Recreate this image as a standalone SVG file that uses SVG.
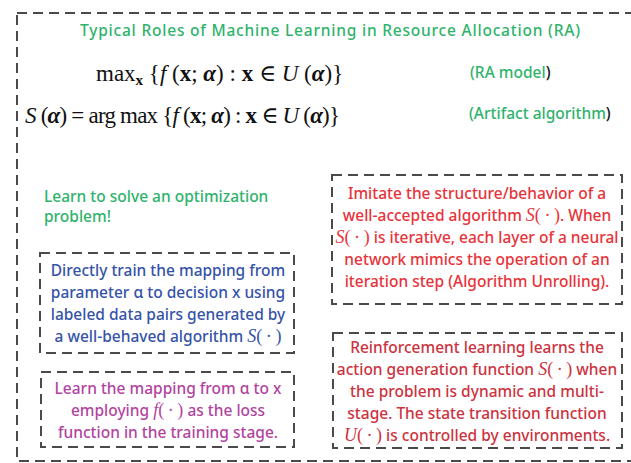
<svg xmlns="http://www.w3.org/2000/svg" width="631" height="463" viewBox="0 0 631 463">
  <style>
    .frame { fill: none; stroke: #4a4a4a; stroke-width: 2; stroke-dasharray: 10 6; }
    .sans { font-family: "Noto Sans", "Open Sans", "Liberation Sans", sans-serif; font-size: 15.5px; font-weight: 500; }
    .math { font-family: "Liberation Serif", "DejaVu Serif", serif; font-size: 23px; fill: #111; }
    .it { font-style: italic; }
    .bf { font-weight: bold; }
    .green { fill: #2fb36c; }
    .blue { fill: #3553a8; }
    .purple { fill: #b2449f; }
    .red { fill: #e8333a; }
    .dred { fill: #cc3340; }
    .mi { font-family: "Liberation Serif", serif; font-style: italic; font-weight: normal; font-size: 18px; }
    .mr { font-family: "Liberation Serif", serif; font-weight: normal; font-size: 18px; }
  </style>
  <rect width="631" height="463" fill="#ffffff"/>

  <!-- outer frame (right edge runs past the canvas) -->
  <rect class="frame" x="17" y="13" width="630" height="448"/>

  <!-- header -->
  <g id="header">
    <text class="sans green" x="80" y="36" font-size="19" textLength="500" lengthAdjust="spacing">Typical Roles of Machine Learning in Resource Allocation (RA)</text>
    <text class="math" x="96" y="81">max<tspan class="bf" font-size="15" dy="4">x</tspan><tspan dy="-4"> {</tspan><tspan class="it">f</tspan> (<tspan class="bf">x</tspan>; <tspan class="bf it">α</tspan>) : <tspan class="bf">x</tspan> ∈ <tspan class="it">U</tspan> (<tspan class="bf it">α</tspan>)}</text>
    <text class="sans green" x="470" y="78" font-size="16.5">(RA model<tspan fill="#111">)</tspan></text>
    <text class="math" x="25" y="123" textLength="315" lengthAdjust="spacing"><tspan class="it">S</tspan> (<tspan class="bf it">α</tspan>) = arg max {<tspan class="it">f</tspan> (<tspan class="bf">x</tspan>; <tspan class="bf it">α</tspan>) : <tspan class="bf">x</tspan> ∈ <tspan class="it">U</tspan> (<tspan class="bf it">α</tspan>)}</text>
    <text class="sans green" x="469" y="119" font-size="16.5">(Artifact algorithm<tspan fill="#111">)</tspan></text>
  </g>

  <g id="goal">
    <text class="sans green" x="44" y="202" font-size="15.8">Learn to solve an optimization</text>
    <text class="sans green" x="44" y="222" font-size="15.8">problem!</text>
  </g>

  <g id="supervised">
    <rect class="frame" x="40" y="253" width="254" height="100"/>
    <g class="sans blue" text-anchor="middle">
      <text x="168" y="276">Directly train the mapping from</text>
      <text x="168" y="298">parameter α to decision x using</text>
      <text x="168" y="320">labeled data pairs generated by</text>
      <text x="168" y="342">a well-behaved algorithm <tspan class="mi">S</tspan><tspan class="mr">(&#8201;·&#8201;)</tspan></text>
    </g>
  </g>

  <g id="unsupervised">
    <rect class="frame" x="41" y="372" width="253" height="75"/>
    <g class="sans purple" text-anchor="middle">
      <text x="168" y="394">Learn the mapping from α to x</text>
      <text x="168" y="416">employing <tspan class="mi">f</tspan><tspan class="mr">(&#8201;·&#8201;)</tspan> as the loss</text>
      <text x="168" y="438">function in the training stage.</text>
    </g>
  </g>

  <g id="unrolling">
    <rect class="frame" x="332" y="175" width="290" height="129"/>
    <g class="sans red" text-anchor="middle">
      <text x="477" y="199">Imitate the structure/behavior of a</text>
      <text x="477" y="221">well-accepted algorithm <tspan class="mi">S</tspan><tspan class="mr">(&#8201;·&#8201;)</tspan>. When</text>
      <text x="477" y="243"><tspan class="mi">S</tspan><tspan class="mr">(&#8201;·&#8201;)</tspan> is iterative, each layer of a neural</text>
      <text x="477" y="265">network mimics the operation of an</text>
      <text x="477" y="287">iteration step (Algorithm Unrolling).</text>
    </g>
  </g>

  <g id="reinforcement">
    <rect class="frame" x="333" y="333" width="289" height="115"/>
    <g class="sans dred" text-anchor="middle">
      <text x="477" y="353">Reinforcement learning learns the</text>
      <text x="477" y="375">action generation function <tspan class="mi">S</tspan><tspan class="mr">(&#8201;·&#8201;)</tspan> when</text>
      <text x="477" y="397">the problem is dynamic and multi-</text>
      <text x="477" y="419">stage. The state transition function</text>
      <text x="477" y="441"><tspan class="mi">U</tspan><tspan class="mr">(&#8201;·&#8201;)</tspan> is controlled by environments.</text>
    </g>
  </g>

  <g id="connectors"/>
</svg>
